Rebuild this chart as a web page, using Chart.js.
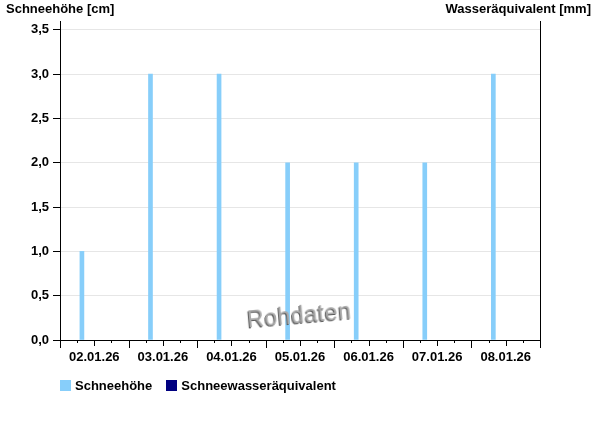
<!DOCTYPE html>
<html>
<head>
<meta charset="utf-8">
<script src="https://cdn.jsdelivr.net/npm/chart.js@4.4.1/dist/chart.umd.min.js"></script>
<style>
  html,body{margin:0;padding:0;background:#fff;}
  #wrap{position:relative;width:600px;height:426px;font-family:"Liberation Sans",Arial,sans-serif;}
  canvas{position:absolute;left:0;top:0;}
  .hdr{position:absolute;top:1px;font-weight:bold;font-size:13px;line-height:16px;color:#000;white-space:nowrap;}
  #hl{left:6px;}
  #hr{right:9px;}
  #wm{position:absolute;left:247px;top:302px;font-size:23px;letter-spacing:0.6px;color:#a8a8a8;text-shadow:-1px 1px 0 #5a5a5a;transform:rotate(-5deg);transform-origin:50% 50%;white-space:nowrap;line-height:26px;}
  #legend{position:absolute;left:60px;top:378px;font-weight:bold;font-size:13px;line-height:15px;white-space:nowrap;}
  .li{display:inline-block;margin-right:14px;}
  .box{display:inline-block;width:11px;height:11px;vertical-align:-1px;margin-right:4px;}
</style>
</head>
<body>
<div id="wrap">
  <canvas id="c" width="600" height="426"></canvas>
  <div class="hdr" id="hl">Schneehöhe [cm]</div>
  <div class="hdr" id="hr">Wasseräquivalent [mm]</div>
  <div id="wm">Rohdaten</div>
  <div id="legend"></div>
</div>
<script>
// ---- data ----
const dayLabels = ['02.01.26','03.01.26','04.01.26','05.01.26','06.01.26','07.01.26','08.01.26'];
const snowDepth = [1, 3, 3, 2, 2, 2, 3];            // Schneehöhe [cm]
const waterEquivalent = [null, null, null, null, null, null, null]; // Schneewasseräquivalent [mm]
const measureHour = 7.67;                            // time of daily reading (hours)
const yTicks = [0, 0.5, 1, 1.5, 2, 2.5, 3, 3.5];
const seriesNames = ['Schneehöhe', 'Schneewasseräquivalent'];
const seriesColors = ['#87cefa', '#000080'];

const depthPts = snowDepth.map((v, i) => ({x: i * 24 + measureHour, y: v}));
const swePts = waterEquivalent.map((v, i) => ({x: i * 24 + measureHour, y: v}));

// legend
const lg = document.getElementById('legend');
seriesNames.forEach((n, i) => {
  const s = document.createElement('span'); s.className = 'li';
  const b = document.createElement('span'); b.className = 'box'; b.style.background = seriesColors[i];
  s.appendChild(b); s.appendChild(document.createTextNode(n)); lg.appendChild(s);
});

const tickPlugin = {
  id: 'xticks',
  afterDraw(chart) {
    const ctx = chart.ctx, xs = chart.scales.x, y0 = chart.chartArea.bottom;
    ctx.save(); ctx.strokeStyle = '#000'; ctx.lineWidth = 1;
    for (let v = xs.min; v <= xs.max; v += 6) {
      const px = Math.round(xs.getPixelForValue(v)) + 0.5;
      const len = (v % 24 === 0) ? 8 : (v % 24 === 12 ? 6 : 3);
      ctx.beginPath(); ctx.moveTo(px, y0); ctx.lineTo(px, y0 + len); ctx.stroke();
    }
    ctx.restore();
  }
};

const font = {family: '"Liberation Sans", Arial, sans-serif', size: 13, weight: 'bold'};

new Chart(document.getElementById('c'), {
  type: 'bar',
  data: {
    datasets: [
      {label: seriesNames[0], data: depthPts, backgroundColor: seriesColors[0], barThickness: 4, grouped: false, yAxisID: 'y'},
      {label: seriesNames[1], data: swePts, backgroundColor: seriesColors[1], barThickness: 4, grouped: false, yAxisID: 'y2'}
    ]
  },
  options: {
    responsive: false, animation: false, devicePixelRatio: 1,
    layout: {padding: {top: 21, left: 0, right: 0, bottom: 0}},
    plugins: {legend: {display: false}, tooltip: {enabled: false}},
    scales: {
      x: {
        type: 'linear', min: 0, max: dayLabels.length * 24, offset: false,
        grid: {display: true, drawOnChartArea: false, drawTicks: false, offset: false},
        border: {display: true, color: '#000', width: 1},
        ticks: {
          stepSize: 6, autoSkip: false, maxRotation: 0, padding: 10, color: '#000', font,
          callback: (v) => (v % 24 === 12) ? dayLabels[(v - 12) / 24] : ''
        },
        afterFit: (s) => { s.height = 86; }
      },
      y: {
        position: 'left', min: 0, max: 3.6,
        grid: {color: '#e6e6e6', tickColor: '#000', tickLength: 7, drawTicks: true},
        border: {display: true, color: '#000', width: 1},
        ticks: {stepSize: 0.5, padding: 4, color: '#000', font,
          callback: (v) => v.toFixed(1).replace('.', ',')},
        afterBuildTicks: (s) => { s.ticks = yTicks.map(v => ({value: v})); },
        afterFit: (s) => { s.width = 60; }
      },
      y2: {
        position: 'right', min: 0, max: 3.6,
        grid: {drawOnChartArea: false, drawTicks: false},
        border: {display: true, color: '#000', width: 1},
        ticks: {display: false},
        afterFit: (s) => { s.width = 60; }
      }
    }
  },
  plugins: [tickPlugin]
});
</script>
</body>
</html>
